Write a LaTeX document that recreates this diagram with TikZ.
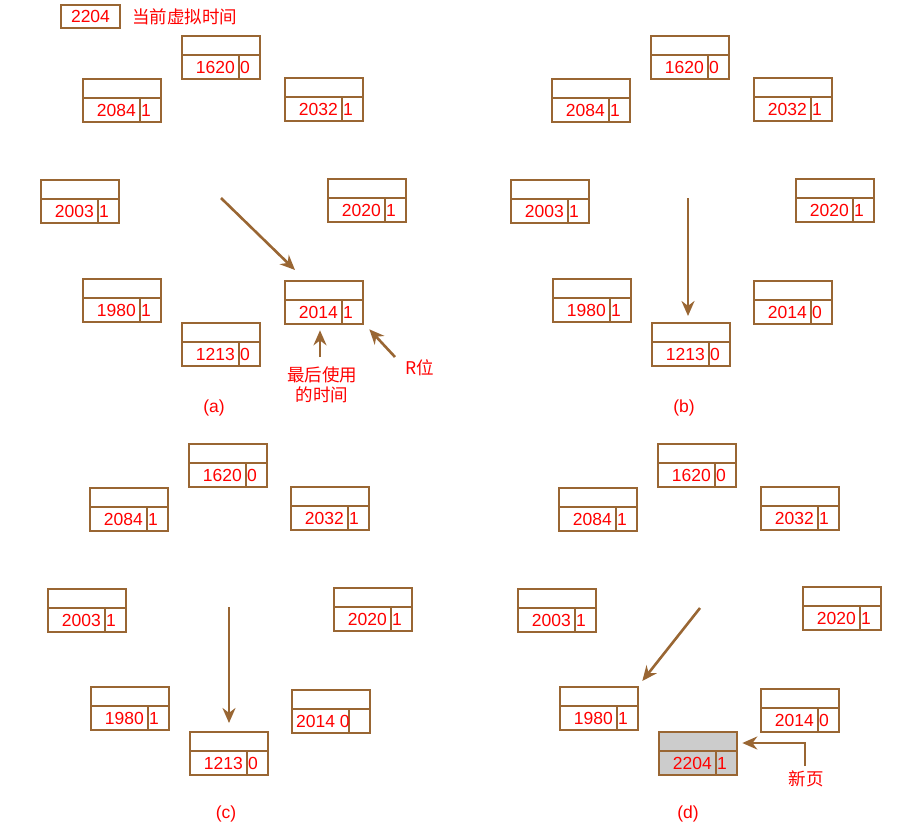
\documentclass[tikz,border=0pt]{standalone}
\usepackage{fontspec}
\setmainfont{Liberation Sans}
\newfontfamily\cjk{Noto Sans CJK SC}
\usetikzlibrary{positioning,arrows.meta}
\definecolor{brn}{RGB}{153,102,51}
\definecolor{txtred}{RGB}{255,0,0}

% page frame: empty top part, time and R bit below
\newcommand{\pgframe}[3][]{%
  \node[pagebox,#1] (#2) at (#3) {};
  \draw[brn, line width=2pt] ([yshift=-20pt]#2.north west) -- ([yshift=-20pt]#2.north east)
    ([shift={(57.5pt,-20pt)}]#2.north west) -- ([xshift=57.5pt]#2.south west);}
\newcommand{\pgtext}[3]{%
  \node[num, anchor=east] (#1-t) at ([shift={(54pt,-32.5pt)}]#1.north west) {#2};
  \node[num, anchor=west] (#1-r) at ([shift={(59pt,-32.5pt)}]#1.north west) {#3};}

\begin{document}
\begin{tikzpicture}[x=1pt, y=-1pt, font=\fontsize{17.5pt}{20pt}\selectfont,
  pagebox/.style={draw=brn, line width=2.3pt, minimum width=78pt, minimum height=43pt, inner sep=0pt, anchor=north west},
  num/.style={text=txtred, inner sep=0pt},
  lbl/.style={text=txtred, inner sep=0pt, align=center},
  arr/.style={draw=brn, line width=2.6pt, -{Stealth[length=15pt,width=13pt]}}]
\useasboundingbox (0,0) rectangle (905,831);
% legend
\node[draw=brn, line width=2.3pt, minimum width=59pt, minimum height=23pt, inner sep=0pt, text=txtred] (cur) at (90.5,16.5) {2204};
\node[lbl, anchor=west] (cur-l) at (132,17) {\cjk 当前虚拟时间};
% (a)
\foreach \x/\y/\t/\r in {181/35/1620/0, 82/78/2084/1, 284/77/2032/1, 40/179/2003/1,
  327/178/2020/1, 82/278/1980/1, 284/280/2014/1, 181/322/1213/0}
  {\pgframe{a\t}{\x,\y}\pgtext{a\t}{\t}{\r}}
\coordinate (a-from) at (221,198);
\draw[arr] (a-from) -- ([shift={(11pt,10pt)}]a2014.north west);
\node[lbl] (a-use) at (322,385) {\cjk 最后使用\\\cjk 的时间};
\coordinate (a-use-tail) at (320,357);
\draw[arr] (a-use-tail) -- ([yshift=-5pt]a-use-tail |- a2014.south);
\node[lbl] (a-rbit) at (420,368) {\cjk R位};
\coordinate (a-rbit-tail) at (395,357);
\draw[arr] (a-rbit-tail) -- ([shift={(5pt,-4pt)}]a2014.south east);
\node[lbl] (a-cap) at (214,408) {(a)};
% (b)
\foreach \x/\y/\t/\r in {650/35/1620/0, 551/78/2084/1, 753/77/2032/1, 510/179/2003/1,
  795/178/2020/1, 552/278/1980/1, 753/280/2014/0, 651/322/1213/0}
  {\pgframe{b\t}{\x,\y}\pgtext{b\t}{\t}{\r}}
\coordinate (b-from) at (688,198);
\draw[arr] (b-from) -- ([yshift=6pt]b-from |- b1213.north);
\node[lbl] (b-cap) at (684,408) {(b)};
% (c)
\foreach \x/\y/\t/\r in {188/443/1620/0, 89/487/2084/1, 290/486/2032/1, 47/588/2003/1,
  333/587/2020/1, 90/686/1980/1, 189/731/1213/0}
  {\pgframe{c\t}{\x,\y}\pgtext{c\t}{\t}{\r}}
\pgframe{c2014}{291,689}
\node[num, anchor=west] (c2014-t) at ([shift={(5pt,-32.5pt)}]c2014.north west) {2014 0};
\coordinate (c-from) at (229,607);
\draw[arr] (c-from) -- ([yshift=8pt]c-from |- c1213.north);
\node[lbl] (c-cap) at (226,814) {(c)};
% (d)
\foreach \x/\y/\t/\r in {657/443/1620/0, 558/487/2084/1, 760/486/2032/1, 517/588/2003/1,
  802/586/2020/1, 559/686/1980/1, 760/688/2014/0}
  {\pgframe{d\t}{\x,\y}\pgtext{d\t}{\t}{\r}}
\pgframe[fill=black!20]{d2204}{658,731}\pgtext{d2204}{2204}{1}
\coordinate (d-from) at (700,608);
\draw[arr] (d-from) -- ([shift={(3pt,5pt)}]d1980.north east);
\node[lbl] (d-new) at (806,779) {\cjk 新页};
\coordinate (d-new-tail) at (805,766);
\draw[arr] (d-new-tail) |- ([shift={(4pt,-12pt)}]d2204.north east);
\node[lbl] (d-cap) at (688,814) {(d)};
\end{tikzpicture}
\end{document}
